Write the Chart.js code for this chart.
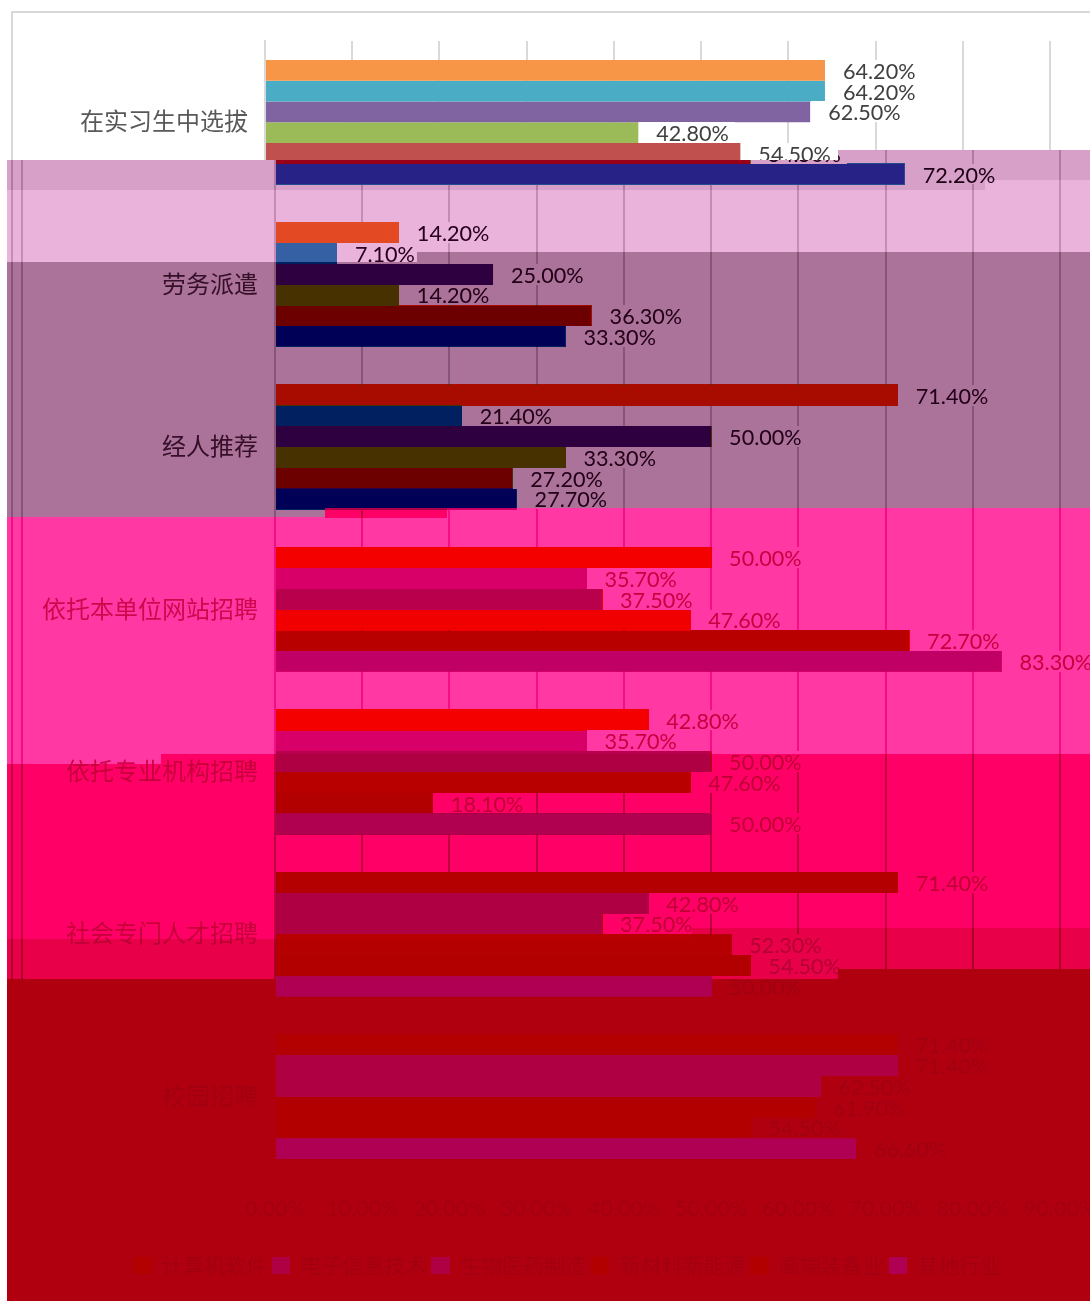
<!DOCTYPE html>
<html lang="zh">
<head>
<meta charset="utf-8">
<title>招聘渠道</title>
<script src="https://cdn.jsdelivr.net/npm/chart.js@4"></script>
<style>
html,body{margin:0;padding:0;background:#fff;overflow:hidden}
#wrap{width:1090px;height:1301px;overflow:hidden;position:relative}
canvas{display:block}
</style>
</head>
<body>
<div id="wrap"><canvas id="c" width="1200" height="1301"></canvas></div>
<script>
const categories = ["在实习生中选拔","劳务派遣","经人推荐","依托本单位网站招聘","依托专业机构招聘","社会专门人才招聘","校园招聘"];
const seriesNames = ["计算机软件","电子信息技术","生物医药制造","新材料新能源","高端装备业","其他行业"];
const series1 = [64.2,14.2,71.4,50.0,42.8,71.4,71.4];
const series2 = [64.2,7.1,21.4,35.7,35.7,42.8,71.4];
const series3 = [62.5,25.0,50.0,37.5,50.0,37.5,62.5];
const series4 = [42.8,14.2,33.3,47.6,47.6,52.3,61.9];
const series5 = [54.5,36.3,27.2,72.7,18.1,54.5,54.5];
const series6 = [72.2,33.3,27.7,83.3,50.0,50.0,66.6];
const tickLabels = ["0.00%","10.00%","20.00%","30.00%","40.00%","50.00%","60.00%","70.00%","80.00%","90.00%"];
const seriesColors = ["#f79646","#4bacc6","#8064a2","#9bbb59","#c0504d","#4f81bd"];

// Colour bands of the picture: where each starts and what every base colour turns into.
const bandStarts = [[160,150,838],[190,180,985],[262,252,417],[517,508,325],[764,754,161],[939,928,692],[979,969,838]];
const bandBg   = [[214,160,200],[233,179,220],[171,115,153],[255,56,164],[255,0,102],[232,0,72],[176,0,16]];
const bandInk  = [[30,0,20],[40,0,30],[36,0,24],[200,0,64],[190,0,50],[180,0,50],[160,0,16]];
const bandGrid = [[176,122,162],[195,141,182],[133,84,118],[245,14,130],[190,0,60],[170,0,40],[176,0,16]];
const bandSeries = [
 [[206,55,15],[34,77,143],[87,5,107],[114,92,34],[151,0,22],[38,34,134]],
 [[227,74,35],[53,96,163],[106,24,127],[133,111,54],[170,4,42],[57,53,154]],
 [[168,12,0],[0,32,96],[46,0,64],[71,49,0],[108,0,0],[0,0,87]],
 [[245,0,0],[216,0,104],[184,0,76],[240,0,0],[184,0,0],[192,0,100]],
 [[180,0,0],[176,0,68],[176,0,68],[184,0,0],[178,0,0],[176,0,80]],
 [[180,0,0],[176,0,68],[176,0,68],[180,0,0],[178,0,0],[176,0,80]],
 [[179,0,0],[176,0,68],[176,0,68],[178,0,0],[178,0,0],[176,0,84]]
];
const gridBase = 217, inkBase = 64;

const hex = h => [1,3,5].map(i=>parseInt(h.substr(i,2),16));
const baseRGB = seriesColors.map(hex);

const framePlugin = {
  id:'frame',
  afterLayout(chart){
    const l=chart.legend;
    l.left+=37.5; l.right+=37.5; l.top+=9; l.bottom+=9;
  },
  beforeDraw(chart){
    const c = chart.ctx;
    c.save();
    c.fillStyle='#fff'; c.fillRect(0,0,chart.width,chart.height);
    c.strokeStyle='rgb(217,217,217)'; c.lineWidth=2;
    c.strokeRect(22,12,1300,1400);
    c.beginPath(); c.moveTo(12,150); c.lineTo(12,1301); c.stroke();
    c.restore();
  }
};
const labelPlugin = {
  id:'valueLabels',
  afterDatasetsDraw(chart){
    const c = chart.ctx;
    c.save();
    c.font='21.6px Lato';
    c.textAlign='left'; c.textBaseline='middle';
    const each = fn => chart.data.datasets.forEach((ds,i)=>{
      chart.getDatasetMeta(i).data.forEach((bar,j)=>fn(bar,ds.data[j].toFixed(2)+'%'));
    });
    c.fillStyle='#fff';
    each((bar,t)=>{
      const y0=Math.round(bar.y-bar.height/2), y1=Math.round(bar.y+bar.height/2);
      const x0=Math.ceil(bar.x);
      c.fillRect(x0,y0,Math.round(c.measureText(t).width)+23,y1-y0);
    });
    c.fillStyle='rgb(64,64,64)';
    each((bar,t)=>c.fillText(t, bar.x+18, bar.y+1.5));
    c.restore();
  }
};
function bandAt(x,y){
  if(x>=325&&x<447&&y>=508&&y<518) return 4;
  for(let k=bandStarts.length-1;k>=0;k--){
    const b=bandStarts[k];
    if(y>=(x>=b[2]?b[1]:b[0])) return k;
  }
  return -1;
}
function mapColor(k,r,g,b){
  if(Math.abs(r-g)<5&&Math.abs(g-b)<5){
    if(r===gridBase) return bandGrid[k];
    const t=Math.min(1,Math.max(0,(255-r)/(255-inkBase)));
    const bg=bandBg[k],ink=bandInk[k];
    return [0,1,2].map(i=>Math.round(bg[i]+(ink[i]-bg[i])*t));
  }
  let best=0,bd=1e12;
  baseRGB.forEach((s,i)=>{
    const d=(s[0]-r)**2+(s[1]-g)**2+(s[2]-b)**2;
    if(d<bd){bd=d;best=i;}
  });
  return bandSeries[k][best];
}
const bandPlugin = {
  id:'bands',
  afterDraw(chart){
    const c=chart.ctx, W=1090, H=1301;
    const src=c.getImageData(0,0,W+10,H), s=src.data;
    const dst=c.createImageData(W,H), d=dst.data;
    const caches=bandStarts.map(()=>new Map());
    for(let y=0;y<H;y++){
      for(let x=0;x<W;x++){
        const o=(y*W+x)*4;
        d[o+3]=255;
        if(x<7){d[o]=d[o+1]=d[o+2]=255;continue;}
        const k=bandAt(x,y);
        if(k<0){
          const p=(y*(W+10)+x+10)*4;
          d[o]=s[p];d[o+1]=s[p+1];d[o+2]=s[p+2];
          continue;
        }
        const p=(y*(W+10)+x)*4;
        const key=(s[p]<<16)|(s[p+1]<<8)|s[p+2];
        let v=caches[k].get(key);
        if(!v){v=mapColor(k,s[p],s[p+1],s[p+2]);caches[k].set(key,v);}
        d[o]=v[0];d[o+1]=v[1];d[o+2]=v[2];
      }
    }
    c.putImageData(dst,0,0);
  }
};

const allSeries=[series1,series2,series3,series4,series5,series6];
new Chart(document.getElementById('c'),{
  type:'bar',
  data:{
    labels:categories,
    datasets:allSeries.map((vals,i)=>({
      label:seriesNames[i],data:vals,backgroundColor:seriesColors[i],
      categoryPercentage:0.766,barPercentage:1,borderWidth:0
    }))
  },
  plugins:[framePlugin,labelPlugin,bandPlugin],
  options:{
    indexAxis:'y',responsive:false,animation:false,
    layout:{padding:{left:0,right:140,top:41,bottom:24}},
    scales:{
      x:{
        min:0,max:90,
        grid:{color:'rgb(217,217,217)',lineWidth:2,drawTicks:false},
        border:{display:false},
        afterFit(s){s.height=63;},
        ticks:{stepSize:10,autoSkip:false,maxRotation:0,padding:18,color:'rgb(89,89,89)',
          font:{family:'Lato',size:21.6},
          callback:(v,i)=>tickLabels[i]}
      },
      y:{
        grid:{display:false,drawTicks:false},
        border:{display:true,color:'rgb(217,217,217)',width:2},
        afterFit(s){s.width=275;},
        ticks:{padding:17,labelOffset:-1,color:'rgb(89,89,89)',autoSkip:false,
          font:{family:'"Noto Sans CJK SC"',size:24}}
      }
    },
    plugins:{
      legend:{position:'bottom',
        labels:{boxWidth:18,boxHeight:17,padding:5,color:'rgb(89,89,89)',
          font:{family:'"Noto Sans CJK SC"',size:21}}},
      tooltip:{enabled:false},title:{display:false}
    }
  }
});
</script>
</body>
</html>
